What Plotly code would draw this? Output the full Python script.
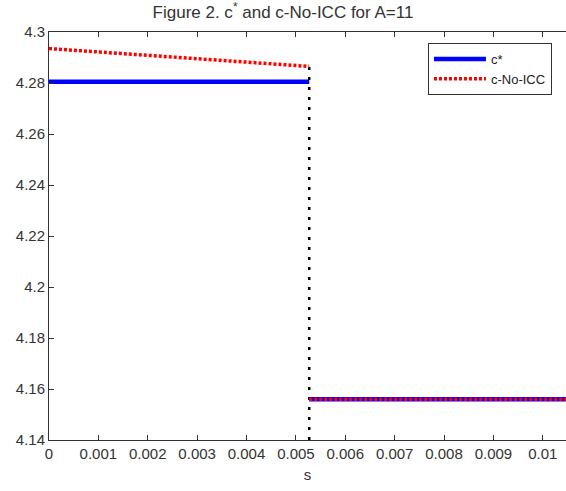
import plotly.graph_objects as go

# Data
s_jump = 0.00527
s_max = 0.01047
s_cstar = [0, s_jump, None, s_jump, s_max]
c_star = [4.2805, 4.2805, None, 4.156, 4.156]
s_noicc = [0, s_jump, None, s_jump, s_max]
c_noicc = [4.2935, 4.2865, None, 4.156, 4.156]
s_vline = [s_jump, s_jump]
c_vline = [4.14, 4.2865]

x_ticks = [0, 0.001, 0.002, 0.003, 0.004, 0.005, 0.006, 0.007, 0.008, 0.009, 0.01]
x_ticktext = ["0", "0.001", "0.002", "0.003", "0.004", "0.005", "0.006", "0.007", "0.008", "0.009", "0.01"]
y_ticks = [4.14, 4.16, 4.18, 4.2, 4.22, 4.24, 4.26, 4.28, 4.3]
y_ticktext = ["4.14", "4.16", "4.18", "4.2", "4.22", "4.24", "4.26", "4.28", "4.3"]

fig = go.Figure()
fig.add_trace(go.Scatter(x=s_vline, y=c_vline, mode="lines", showlegend=False,
                         line=dict(color="black", width=2.5, dash="3px,7px")))
fig.add_trace(go.Scatter(x=s_cstar, y=c_star, mode="lines", name="c*",
                         line=dict(color="#0000ff", width=4.5)))
fig.add_trace(go.Scatter(x=s_noicc, y=c_noicc, mode="lines", name="c-No-ICC",
                         line=dict(color="#ff0000", width=3.5, dash="3px,2px")))

FONT = "Liberation Sans, Arial, sans-serif"
axis_font = dict(family=FONT, size=15, color="#333333")
fig.update_layout(
    width=566, height=491,
    margin=dict(l=49, r=0, t=32, b=51, autoexpand=False),
    paper_bgcolor="white", plot_bgcolor="white",
    font=axis_font,
    title=dict(text="Figure 2. c<sup>*</sup> and c-No-ICC for A=11", x=0.5, xanchor="center",
               y=0.975, yanchor="middle",
               font=dict(family=FONT, size=17, color="#333333")),
    legend=dict(x=0.733, y=0.973, xanchor="left", yanchor="top",
                bgcolor="white", bordercolor="#333333", borderwidth=1,
                font=dict(family=FONT, size=13, color="#222222"),
                tracegroupgap=0, itemwidth=52),
    showlegend=True,
)
fig.update_xaxes(range=[0, s_max], tickvals=x_ticks, ticktext=x_ticktext, automargin=False,
                 showgrid=False, zeroline=False, showline=True, linecolor="#333333", linewidth=1,
                 mirror="ticks", ticks="inside", ticklen=5, tickcolor="#333333",
                 title=dict(text="s", standoff=8, font=axis_font))
fig.update_yaxes(range=[4.14, 4.3], tickvals=y_ticks, ticktext=y_ticktext, automargin=False,
                 showgrid=False, zeroline=False, showline=True, linecolor="#333333", linewidth=1,
                 ticks="inside", ticklen=5, tickcolor="#333333")

fig.write_html("out.html", config={"displayModeBar": False},
               post_script="document.body.style.margin='0';document.body.style.overflow='hidden';")
